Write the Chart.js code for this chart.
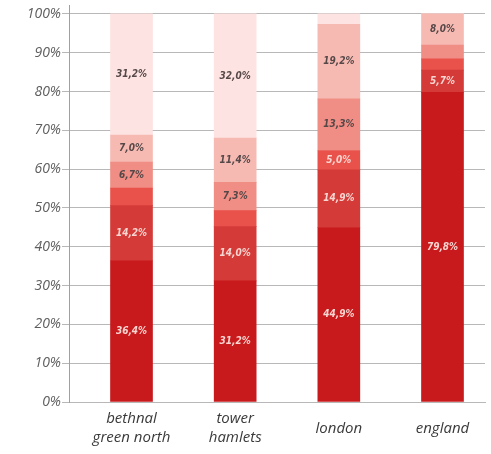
<!DOCTYPE html>
<html>
<head>
<meta charset="utf-8">
<script src="https://cdn.jsdelivr.net/npm/chart.js@4/dist/chart.umd.min.js"></script>
<style>
    html, body { margin: 0; padding: 0; background: #ffffff; }
    #wrap { width: 491px; height: 454px; }
</style>
</head>
<body>
<div id="wrap"><canvas id="shareChart" width="491" height="454"></canvas></div>
<script>
// areas along the x axis
const categories = ['bethnal green north', 'tower hamlets', 'london', 'england'];
const tickLabels = [['bethnal', 'green north'], ['tower', 'hamlets'], 'london', 'england'];

// stacked shares, bottom segment first (percent)
const band1 = [36.4, 31.2, 44.9, 79.8];
const band2 = [14.2, 14.0, 14.9, 5.7];
const band3 = [4.5, 4.1, 5.0, 2.9];
const band4 = [6.7, 7.3, 13.3, 3.6];
const band5 = [7.0, 11.4, 19.2, 8.0];
const band6 = [31.2, 32.0, 2.7, 0];

const yTicks = [0, 10, 20, 30, 40, 50, 60, 70, 80, 90, 100];

const bandColors = ['#c8191c', '#d43b38', '#e9524b', '#f08d84', '#f7bab3', '#fde3e2'];
const bandText = ['#f7d6d2', '#f7d6d2', '#f7d6d2', '#554848', '#554848', '#554848'];

document.addEventListener("DOMContentLoaded", function() {
    const bands = [band1, band2, band3, band4, band5, band6];

    // writes "36,4%" in the middle of every segment big enough to hold it
    const segmentLabels = {
        id: 'segmentLabels',
        afterDatasetsDraw(chart) {
            const ctx = chart.ctx;
            ctx.save();
            ctx.font = 'italic bold 10px "Liberation Sans Narrow", "DejaVu Sans Condensed", sans-serif';
            ctx.textAlign = 'center';
            ctx.textBaseline = 'middle';
            chart.data.datasets.forEach((ds, di) => {
                const meta = chart.getDatasetMeta(di);
                meta.data.forEach((bar, i) => {
                    const v = ds.data[i];
                    if (v < 5) return;
                    ctx.fillStyle = bandText[di];
                    const text = v.toFixed(1).replace('.', ',') + '%';
                    ctx.fillText(text, bar.x, (bar.y + bar.base) / 2);
                });
            });
            ctx.restore();
        }
    };

    new Chart(document.getElementById('shareChart'), {
        type: 'bar',
        data: {
            labels: categories.map((c, i) => i),
            datasets: bands.map((values, i) => ({
                label: 'band ' + (i + 1),
                data: values,
                backgroundColor: bandColors[i],
                borderWidth: 0,
                barThickness: 42
            }))
        },
        options: {
            responsive: false,
            animation: false,
            layout: { padding: { top: 5, right: 6, left: 0, bottom: 0 } },
            plugins: {
                legend: { display: false },
                tooltip: { enabled: false }
            },
            scales: {
                x: {
                    type: 'linear',
                    stacked: true,
                    offset: false,
                    min: -0.603,
                    max: 3.41,
                    afterBuildTicks: scale => {
                        scale.ticks = categories.map((c, i) => ({ value: i }));
                    },
                    afterFit: scale => { scale.height = 52; },
                    grid: { display: false },
                    border: { display: true, color: '#b8b8b8', width: 1 },
                    ticks: {
                        autoSkip: false,
                        maxRotation: 0,
                        padding: 9,
                        crossAlign: 'center',
                        color: '#3a3a3a',
                        font: { family: 'Open Sans', style: 'italic', size: 15, lineHeight: 1.25 },
                        callback: value => tickLabels[value]
                    }
                },
                y: {
                    stacked: true,
                    min: 0,
                    max: 102.3,
                    afterBuildTicks: scale => {
                        scale.ticks = yTicks.map(v => ({ value: v }));
                    },
                    afterFit: scale => {
                        scale.width = 69;
                        // the 100% label may run into the top margin
                        scale.paddingTop = 0;
                        scale.paddingBottom = 0;
                    },
                    grid: { color: '#b8b8b8', lineWidth: 1, tickLength: 7 },
                    border: { display: true, color: '#a0a0a0', width: 1 },
                    ticks: {
                        padding: 1,
                        color: '#5e5e5e',
                        font: { family: 'Open Sans', style: 'italic', size: 14 },
                        callback: value => value + '%'
                    }
                }
            }
        },
        plugins: [segmentLabels]
    });
});
</script>
</body>
</html>
